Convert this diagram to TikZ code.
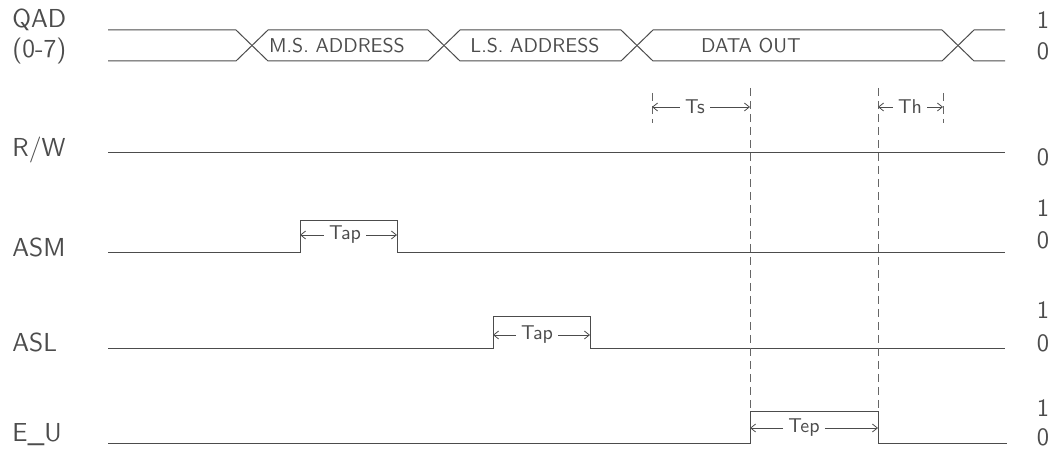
\documentclass[tikz,border=0pt]{standalone}
\usetikzlibrary{arrows.meta}

\begin{document}
\begin{tikzpicture}[x=0.5pt, y=-0.5pt,
    wave/.style={black!70, line width=0.5pt},
    guide/.style={black!60, line width=0.4pt, dash pattern=on 4pt off 2.5pt},
    dim/.style={black!70, line width=0.4pt, -{Straight Barb[length=2.5pt,width=4pt]}},
    siglabel/.style={anchor=west, inner sep=0pt, text=black!70, font=\fontsize{13}{15}\selectfont\sffamily},
    level/.style={inner sep=0pt, text=black!70, font=\fontsize{12.5}{14}\selectfont\sffamily},
    buslabel/.style={inner sep=0pt, text=black!70, font=\fontsize{10}{12}\selectfont\sffamily},
    dimlabel/.style={inner sep=2.5pt, text=black!70, font=\fontsize{10}{12}\selectfont\sffamily}]
  \useasboundingbox (0,0) rectangle (1057,454);

  % signal names
  \node[siglabel] (qad)     at (12,20)  {QAD};
  \node[siglabel] (qadbits) at (12,51)  {(0-7)};
  \node[siglabel] (rw)      at (12,150) {R/W};
  \node[siglabel] (asm)     at (12,247) {ASM};
  \node[siglabel] (asl)     at (12,342) {ASL};
  \node[siglabel] (eu)      at (12,435) {E\_U};

  % logic levels
  \foreach \y/\v [count=\i] in {20/1,51/0,157/0,208/1,240/0,310/1,343/0,408/1,437/0}
    \node[level] (lv\i) at (1043,\y) {\v};

  % address / data bus
  \draw[wave] (108,30) -- (236,30) -- (268,61) -- (428,61) -- (460,30) -- (621,30)
    -- (653,61) -- (942,61) -- (974,30) -- (1005,30);
  \draw[wave] (108,61) -- (236,61) -- (268,30) -- (428,30) -- (460,61) -- (621,61)
    -- (653,30) -- (942,30) -- (974,61) -- (1005,61);
  \node[buslabel] (msaddr) at (337,46) {M.S. ADDRESS};
  \node[buslabel] (lsaddr) at (535,46) {L.S. ADDRESS};
  \node[buslabel] (dout)   at (751,46) {DATA OUT};

  % control lines
  \draw[wave] (108,153) -- (1005,153);
  \draw[wave] (108,253) -- (300,253) -- (300,221) -- (397,221) -- (397,253) -- (1005,253);
  \draw[wave] (108,349) -- (493,349) -- (493,317) -- (590,317) -- (590,349) -- (1005,349);
  \draw[wave] (108,444) -- (750,444) -- (750,412) -- (878,412) -- (878,444) -- (1007,444);

  % timing guides
  \draw[guide] (652,93) -- (652,123);
  \draw[guide] (750,88) -- (750,412);
  \draw[guide] (878,88) -- (878,412);
  \draw[guide] (943,93) -- (943,123);

  % timing intervals
  \foreach \nm/\cx/\cy/\xa/\xb/\txt in {ts/695/107/652/750/Ts, th/910/107/878/943/Th,
      tapm/345/235/300/397/Tap, tapl/537/335/493/590/Tap, tep/804/428/750/878/Tep} {
    \node[dimlabel] (\nm) at (\cx,\cy) {\txt};
    \coordinate (\nm a) at (\xa,\cy);
    \coordinate (\nm b) at (\xb,\cy);
    \draw[dim] (\nm.west) -- (\nm a);
    \draw[dim] (\nm.east) -- (\nm b);
  }
\end{tikzpicture}
\end{document}
